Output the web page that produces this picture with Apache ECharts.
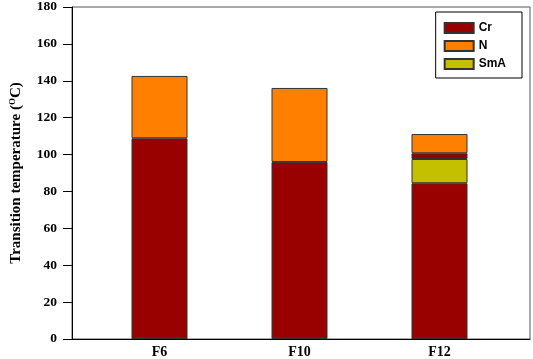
<!DOCTYPE html>
<html><head><meta charset="utf-8">
<script src="https://cdn.jsdelivr.net/npm/echarts@6/dist/echarts.min.js"></script>
<style>html,body{margin:0;padding:0;background:#fff}#c{width:533px;height:359px}</style>
</head><body><div id="c"></div>
<script>
const categories = ['F6', 'F10', 'F12'];
const crValues = [108.5, 95.7, 84.2];
const smaValues = [null, null, 13.1];
const cr2Values = [null, null, 3.1];
const nValues = [33.7, 40.0, 10.4];
const yTicks = [0, 180, 20];

const border = {borderColor: '#333', borderWidth: 1};
const serif = {fontFamily: 'Liberation Serif', fontWeight: 'bold', color: '#000'};
const chart = echarts.init(document.getElementById('c'));
chart.setOption({
  animation: false,
  grid: [
    {left: 68, right: 3, top: 6, bottom: 20, show: true, borderColor: '#555', borderWidth: 1, backgroundColor: 'transparent'},
    {left: 89.5, right: 23.5, top: 6, bottom: 20}
  ],
  xAxis: [
    {gridIndex: 0, type: 'value', min: 0, max: 1, axisLine: {show: true, lineStyle: {color: '#000'}},
     axisTick: {show: false}, axisLabel: {show: false}, splitLine: {show: false}},
    {gridIndex: 1, type: 'category', data: categories, axisLine: {show: false}, axisTick: {show: false},
     axisLabel: Object.assign({fontSize: 14, margin: 6}, serif)}
  ],
  yAxis: [
    {
      gridIndex: 0, type: 'value', min: yTicks[0], max: yTicks[1], interval: yTicks[2],
      axisLine: {show: true, lineStyle: {color: '#000'}},
      axisTick: {show: true, inside: false, length: 9, lineStyle: {color: '#000'}},
      splitLine: {show: false},
      axisLabel: Object.assign({fontSize: 13.5, margin: 15}, serif),
      name: 'Transition temperature ({s|O}C)',
      nameLocation: 'middle', nameGap: 48, nameRotate: 90,
      nameTextStyle: Object.assign({fontSize: 15,
        rich: {s: Object.assign({fontSize: 9, verticalAlign: 'top', padding: [0, 0, 7, 0]}, serif)}}, serif)
    },
    {gridIndex: 1, type: 'value', min: yTicks[0], max: yTicks[1], show: false, splitLine: {show: false}}
  ],
  legend: {
    data: ['Cr', 'N', 'SmA'],
    orient: 'vertical', right: 11, top: 12,
    borderColor: '#000', borderWidth: 1, padding: [10, 16, 8, 8],
    itemWidth: 29, itemHeight: 10, itemGap: 6, icon: 'rect',
    textStyle: {fontFamily: 'Liberation Sans', fontWeight: 'bold', fontSize: 12, color: '#000'}
  },
  series: [
    {name: 'Cr', type: 'bar', stack: 's', xAxisIndex: 1, yAxisIndex: 1, barWidth: 56, data: crValues, itemStyle: Object.assign({color: '#990000'}, border)},
    {name: 'SmA', type: 'bar', stack: 's', xAxisIndex: 1, yAxisIndex: 1, barWidth: 56, data: smaValues, itemStyle: Object.assign({color: '#C4C000'}, border)},
    {name: 'Cr', type: 'bar', stack: 's', xAxisIndex: 1, yAxisIndex: 1, barWidth: 56, data: cr2Values, itemStyle: Object.assign({color: '#990000'}, border)},
    {name: 'N', type: 'bar', stack: 's', xAxisIndex: 1, yAxisIndex: 1, barWidth: 56, data: nValues, itemStyle: Object.assign({color: '#FF8000'}, border)}
  ]
});
</script></body></html>
